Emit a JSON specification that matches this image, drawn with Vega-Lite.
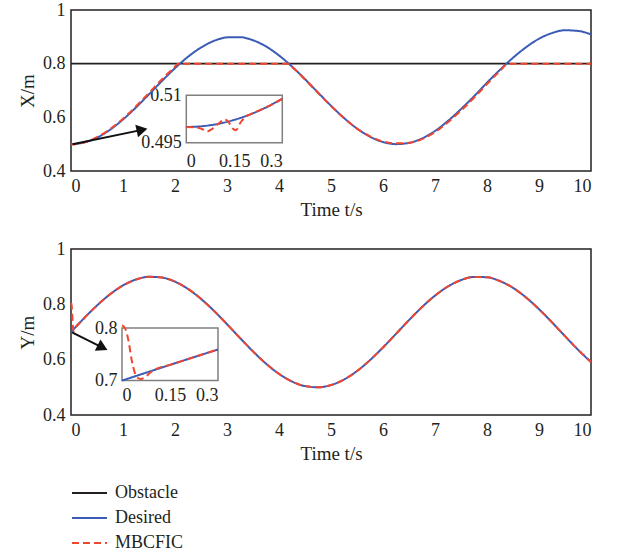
{
  "$schema": "https://vega.github.io/schema/vega-lite/v6.json",
  "background": "white",
  "padding": {"left": 17, "top": 0, "right": 5, "bottom": 5},
  "spacing": 19,
  "config": {
    "font": "Liberation Serif",
    "view": {"stroke": "#231f20", "strokeWidth": 1.5},
    "axis": {"grid": false, "ticks": false, "domain": false, "labelFontSize": 18, "titleFontSize": 19, "titleFontWeight": "normal", "labelColor": "#231f20", "titleColor": "#231f20", "labelPadding": 6, "titlePadding": 5, "labelFont": "Liberation Serif", "titleFont": "Liberation Serif"},
    "legend": {"labelFontSize": 18, "labelFont": "Liberation Serif", "labelColor": "#231f20", "padding": 0}
  },
  "datasets": {
    "xd": [
      {"t": 0, "v": 0.8, "s": "Obstacle"}, {"t": 10, "v": 0.8, "s": "Obstacle"},
      {"t": 0, "v": 0.5, "s": "Desired"}, {"t": 0.05, "v": 0.50025, "s": "Desired"}, {"t": 0.1, "v": 0.501, "s": "Desired"}, {"t": 0.15, "v": 0.50225, "s": "Desired"}, {"t": 0.2, "v": 0.50399, "s": "Desired"}, {"t": 0.25, "v": 0.50622, "s": "Desired"}, {"t": 0.3, "v": 0.50893, "s": "Desired"},
      {"t": 0.5, "v": 0.52448, "s": "Desired"}, {"t": 0.75, "v": 0.55366, "s": "Desired"}, {"t": 1, "v": 0.59194, "s": "Desired"}, {"t": 1.25, "v": 0.63694, "s": "Desired"}, {"t": 1.5, "v": 0.68585, "s": "Desired"}, {"t": 1.75, "v": 0.73565, "s": "Desired"}, {"t": 2, "v": 0.78323, "s": "Desired"}, {"t": 2.25, "v": 0.82563, "s": "Desired"}, {"t": 2.5, "v": 0.86023, "s": "Desired"}, {"t": 2.75, "v": 0.88486, "s": "Desired"}, {"t": 3, "v": 0.898, "s": "Desired"}, {"t": 3.25, "v": 0.89883, "s": "Desired"}, {"t": 3.5, "v": 0.88729, "s": "Desired"}, {"t": 3.75, "v": 0.86411, "s": "Desired"}, {"t": 4, "v": 0.83073, "s": "Desired"}, {"t": 4.25, "v": 0.78922, "s": "Desired"}, {"t": 4.5, "v": 0.74216, "s": "Desired"}, {"t": 4.75, "v": 0.69248, "s": "Desired"}, {"t": 5, "v": 0.64327, "s": "Desired"}, {"t": 5.25, "v": 0.59758, "s": "Desired"}, {"t": 5.5, "v": 0.55827, "s": "Desired"}, {"t": 5.75, "v": 0.52776, "s": "Desired"}, {"t": 6, "v": 0.50797, "s": "Desired"}, {"t": 6.25, "v": 0.50011, "s": "Desired"}, {"t": 6.5, "v": 0.50468, "s": "Desired"}, {"t": 6.75, "v": 0.5214, "s": "Desired"}, {"t": 7, "v": 0.54922, "s": "Desired"}, {"t": 7.25, "v": 0.58678, "s": "Desired"}, {"t": 7.5, "v": 0.63067, "s": "Desired"}, {"t": 7.75, "v": 0.67836, "s": "Desired"}, {"t": 8, "v": 0.7291, "s": "Desired"}, {"t": 8.25, "v": 0.7771, "s": "Desired"}, {"t": 8.5, "v": 0.822, "s": "Desired"}, {"t": 8.75, "v": 0.861, "s": "Desired"}, {"t": 9, "v": 0.893, "s": "Desired"}, {"t": 9.25, "v": 0.914, "s": "Desired"}, {"t": 9.5, "v": 0.9245, "s": "Desired"}, {"t": 9.75, "v": 0.922, "s": "Desired"}, {"t": 10, "v": 0.909, "s": "Desired"},
      {"t": 0, "v": 0.5, "s": "MBCFIC"}, {"t": 0.03, "v": 0.4999, "s": "MBCFIC"}, {"t": 0.05, "v": 0.4993, "s": "MBCFIC"}, {"t": 0.065, "v": 0.4986, "s": "MBCFIC"}, {"t": 0.08, "v": 0.4993, "s": "MBCFIC"}, {"t": 0.1, "v": 0.501, "s": "MBCFIC"}, {"t": 0.12, "v": 0.5024, "s": "MBCFIC"}, {"t": 0.13, "v": 0.5018, "s": "MBCFIC"}, {"t": 0.145, "v": 0.4995, "s": "MBCFIC"}, {"t": 0.155, "v": 0.499, "s": "MBCFIC"}, {"t": 0.17, "v": 0.5015, "s": "MBCFIC"}, {"t": 0.185, "v": 0.5032, "s": "MBCFIC"}, {"t": 0.2, "v": 0.504, "s": "MBCFIC"}, {"t": 0.25, "v": 0.50622, "s": "MBCFIC"}, {"t": 0.3, "v": 0.50893, "s": "MBCFIC"},
      {"t": 0.5, "v": 0.526, "s": "MBCFIC"}, {"t": 0.75, "v": 0.556, "s": "MBCFIC"}, {"t": 1, "v": 0.595, "s": "MBCFIC"}, {"t": 1.25, "v": 0.641, "s": "MBCFIC"}, {"t": 1.5, "v": 0.691, "s": "MBCFIC"}, {"t": 1.75, "v": 0.742, "s": "MBCFIC"}, {"t": 2, "v": 0.789, "s": "MBCFIC"}, {"t": 2.06, "v": 0.8, "s": "MBCFIC"}, {"t": 3, "v": 0.8, "s": "MBCFIC"}, {"t": 4.17, "v": 0.8, "s": "MBCFIC"}, {"t": 4.25, "v": 0.788, "s": "MBCFIC"}, {"t": 4.5, "v": 0.741, "s": "MBCFIC"}, {"t": 4.75, "v": 0.691, "s": "MBCFIC"}, {"t": 5, "v": 0.642, "s": "MBCFIC"}, {"t": 5.25, "v": 0.597, "s": "MBCFIC"}, {"t": 5.5, "v": 0.558, "s": "MBCFIC"}, {"t": 5.75, "v": 0.529, "s": "MBCFIC"}, {"t": 6, "v": 0.51, "s": "MBCFIC"}, {"t": 6.25, "v": 0.503, "s": "MBCFIC"}, {"t": 6.5, "v": 0.505, "s": "MBCFIC"}, {"t": 6.75, "v": 0.519, "s": "MBCFIC"}, {"t": 7, "v": 0.545, "s": "MBCFIC"}, {"t": 7.25, "v": 0.582, "s": "MBCFIC"}, {"t": 7.5, "v": 0.625, "s": "MBCFIC"}, {"t": 7.75, "v": 0.673, "s": "MBCFIC"}, {"t": 8, "v": 0.724, "s": "MBCFIC"}, {"t": 8.25, "v": 0.773, "s": "MBCFIC"}, {"t": 8.41, "v": 0.8, "s": "MBCFIC"}, {"t": 10, "v": 0.8, "s": "MBCFIC"}
    ],
    "yd": [
      {"t": 0, "v": 0.7, "s": "Desired"}, {"t": 0.05, "v": 0.70999, "s": "Desired"}, {"t": 0.1, "v": 0.71997, "s": "Desired"}, {"t": 0.15, "v": 0.72989, "s": "Desired"}, {"t": 0.2, "v": 0.73973, "s": "Desired"}, {"t": 0.25, "v": 0.74948, "s": "Desired"}, {"t": 0.3, "v": 0.7591, "s": "Desired"},
      {"t": 0.5, "v": 0.79589, "s": "Desired"}, {"t": 0.75, "v": 0.83633, "s": "Desired"}, {"t": 1, "v": 0.86829, "s": "Desired"}, {"t": 1.25, "v": 0.8898, "s": "Desired"}, {"t": 1.5, "v": 0.8995, "s": "Desired"}, {"t": 1.75, "v": 0.8968, "s": "Desired"}, {"t": 2, "v": 0.88186, "s": "Desired"}, {"t": 2.25, "v": 0.85561, "s": "Desired"}, {"t": 2.5, "v": 0.81969, "s": "Desired"}, {"t": 2.75, "v": 0.77633, "s": "Desired"}, {"t": 3, "v": 0.72822, "s": "Desired"}, {"t": 3.25, "v": 0.67836, "s": "Desired"}, {"t": 3.5, "v": 0.62984, "s": "Desired"}, {"t": 3.75, "v": 0.58569, "s": "Desired"}, {"t": 4, "v": 0.54864, "s": "Desired"}, {"t": 4.25, "v": 0.521, "s": "Desired"}, {"t": 4.5, "v": 0.50449, "s": "Desired"}, {"t": 4.75, "v": 0.50014, "s": "Desired"}, {"t": 5, "v": 0.50822, "s": "Desired"}, {"t": 5.25, "v": 0.52821, "s": "Desired"}, {"t": 5.5, "v": 0.55889, "s": "Desired"}, {"t": 5.75, "v": 0.59837, "s": "Desired"}, {"t": 6, "v": 0.64412, "s": "Desired"}, {"t": 6.25, "v": 0.69336, "s": "Desired"}, {"t": 6.5, "v": 0.74302, "s": "Desired"}, {"t": 6.75, "v": 0.79009, "s": "Desired"}, {"t": 7, "v": 0.8314, "s": "Desired"}, {"t": 7.25, "v": 0.86462, "s": "Desired"}, {"t": 7.5, "v": 0.8876, "s": "Desired"}, {"t": 7.75, "v": 0.89916, "s": "Desired"}, {"t": 8, "v": 0.89787, "s": "Desired"}, {"t": 8.25, "v": 0.88381, "s": "Desired"}, {"t": 8.5, "v": 0.8597, "s": "Desired"}, {"t": 8.75, "v": 0.82501, "s": "Desired"}, {"t": 9, "v": 0.78242, "s": "Desired"}, {"t": 9.25, "v": 0.73487, "s": "Desired"}, {"t": 9.5, "v": 0.68497, "s": "Desired"}, {"t": 9.75, "v": 0.6361, "s": "Desired"}, {"t": 10, "v": 0.5912, "s": "Desired"},
      {"t": 0, "v": 0.805, "s": "MBCFIC"}, {"t": 0.008, "v": 0.801, "s": "MBCFIC"}, {"t": 0.015, "v": 0.79, "s": "MBCFIC"}, {"t": 0.022, "v": 0.77, "s": "MBCFIC"}, {"t": 0.03, "v": 0.74, "s": "MBCFIC"}, {"t": 0.04, "v": 0.715, "s": "MBCFIC"}, {"t": 0.05, "v": 0.705, "s": "MBCFIC"}, {"t": 0.06, "v": 0.703, "s": "MBCFIC"}, {"t": 0.075, "v": 0.708, "s": "MBCFIC"}, {"t": 0.09, "v": 0.716, "s": "MBCFIC"}, {"t": 0.1, "v": 0.72, "s": "MBCFIC"}, {"t": 0.15, "v": 0.72989, "s": "MBCFIC"}, {"t": 0.2, "v": 0.73973, "s": "MBCFIC"}, {"t": 0.25, "v": 0.74948, "s": "MBCFIC"}, {"t": 0.3, "v": 0.7591, "s": "MBCFIC"},
      {"t": 0.5, "v": 0.79589, "s": "MBCFIC"}, {"t": 0.75, "v": 0.83633, "s": "MBCFIC"}, {"t": 1, "v": 0.86829, "s": "MBCFIC"}, {"t": 1.25, "v": 0.8898, "s": "MBCFIC"}, {"t": 1.5, "v": 0.8995, "s": "MBCFIC"}, {"t": 1.75, "v": 0.8968, "s": "MBCFIC"}, {"t": 2, "v": 0.88186, "s": "MBCFIC"}, {"t": 2.25, "v": 0.85561, "s": "MBCFIC"}, {"t": 2.5, "v": 0.81969, "s": "MBCFIC"}, {"t": 2.75, "v": 0.77633, "s": "MBCFIC"}, {"t": 3, "v": 0.72822, "s": "MBCFIC"}, {"t": 3.25, "v": 0.67836, "s": "MBCFIC"}, {"t": 3.5, "v": 0.62984, "s": "MBCFIC"}, {"t": 3.75, "v": 0.58569, "s": "MBCFIC"}, {"t": 4, "v": 0.54864, "s": "MBCFIC"}, {"t": 4.25, "v": 0.521, "s": "MBCFIC"}, {"t": 4.5, "v": 0.50449, "s": "MBCFIC"}, {"t": 4.75, "v": 0.50014, "s": "MBCFIC"}, {"t": 5, "v": 0.50822, "s": "MBCFIC"}, {"t": 5.25, "v": 0.52821, "s": "MBCFIC"}, {"t": 5.5, "v": 0.55889, "s": "MBCFIC"}, {"t": 5.75, "v": 0.59837, "s": "MBCFIC"}, {"t": 6, "v": 0.64412, "s": "MBCFIC"}, {"t": 6.25, "v": 0.69336, "s": "MBCFIC"}, {"t": 6.5, "v": 0.74302, "s": "MBCFIC"}, {"t": 6.75, "v": 0.79009, "s": "MBCFIC"}, {"t": 7, "v": 0.8314, "s": "MBCFIC"}, {"t": 7.25, "v": 0.86462, "s": "MBCFIC"}, {"t": 7.5, "v": 0.8876, "s": "MBCFIC"}, {"t": 7.75, "v": 0.89916, "s": "MBCFIC"}, {"t": 8, "v": 0.89787, "s": "MBCFIC"}, {"t": 8.25, "v": 0.88381, "s": "MBCFIC"}, {"t": 8.5, "v": 0.8597, "s": "MBCFIC"}, {"t": 8.75, "v": 0.82501, "s": "MBCFIC"}, {"t": 9, "v": 0.78242, "s": "MBCFIC"}, {"t": 9.25, "v": 0.73487, "s": "MBCFIC"}, {"t": 9.5, "v": 0.68497, "s": "MBCFIC"}, {"t": 9.75, "v": 0.6361, "s": "MBCFIC"}, {"t": 10, "v": 0.5912, "s": "MBCFIC"}
    ],
    "ax": [{"t": 0.03, "v": 0.5, "t2": 1.366, "v2": 0.5533, "a": -12.5}],
    "ay": [{"t": 0.02, "v": 0.699, "t2": 0.607, "v2": 0.6436, "a": 26.6}],
    "fx": [{"t": 0, "t2": 0.3, "v": 0.495, "v2": 0.51}],
    "fy": [{"t": 0, "t2": 0.3, "v": 0.7, "v2": 0.8}]
  },
  "resolve": {"scale": {"color": "independent", "strokeDash": "independent"}},
  "vconcat": [
    {
      "width": 520, "height": 161,
      "resolve": {"scale": {"x": "independent", "y": "independent"}},
      "layer": [
        {
          "layer": [
            {"data": {"name": "xd"}, "transform": [{"filter": "datum.s == 'Obstacle'"}], "mark": {"type": "line", "strokeWidth": 1.8},
             "encoding": {
               "x": {"field": "t", "type": "quantitative", "title": "Time t/s", "scale": {"domain": [0, 10]}, "axis": {"values": [0,1,2,3,4,5,6,7,8,9,10]}},
               "y": {"field": "v", "type": "quantitative", "title": "X/m", "scale": {"domain": [0.4, 1], "zero": false}, "axis": {"values": [0.4,0.6,0.8,1], "labelExpr": "datum.value"}},
               "color": {"field": "s", "type": "nominal", "scale": {"domain": ["Obstacle","Desired","MBCFIC"], "range": ["#231f20","#3b5bb5","#f0462d"]}, "legend": null},
               "strokeDash": {"field": "s", "type": "nominal", "scale": {"domain": ["Obstacle","Desired","MBCFIC"], "range": [[1,0],[1,0],[7,4]]}, "legend": null}}},
            {"data": {"name": "xd"}, "transform": [{"filter": "datum.s == 'Desired'"}], "mark": {"type": "line", "strokeWidth": 2, "interpolate": "monotone"},
             "encoding": {
               "x": {"field": "t", "type": "quantitative", "title": "Time t/s"},
               "y": {"field": "v", "type": "quantitative", "title": "X/m"},
               "color": {"field": "s", "type": "nominal", "legend": null},
               "strokeDash": {"field": "s", "type": "nominal", "legend": null}}},
            {"data": {"name": "xd"}, "transform": [{"filter": "datum.s == 'MBCFIC'"}], "mark": {"type": "line", "strokeWidth": 2, "interpolate": "monotone"},
             "encoding": {
               "x": {"field": "t", "type": "quantitative", "title": "Time t/s"},
               "y": {"field": "v", "type": "quantitative", "title": "X/m"},
               "color": {"field": "s", "type": "nominal", "legend": null},
               "strokeDash": {"field": "s", "type": "nominal", "legend": null}}},
            {"data": {"name": "ax"}, "mark": {"type": "rule", "strokeWidth": 2, "color": "#111"},
             "encoding": {
               "x": {"field": "t", "type": "quantitative", "title": "Time t/s"}, "x2": {"field": "t2"},
               "y": {"field": "v", "type": "quantitative", "title": "X/m"}, "y2": {"field": "v2"}}},
            {"data": {"name": "ax"}, "mark": {"type": "point", "shape": "triangle-right", "filled": true, "color": "#111", "opacity": 1, "size": 160},
             "encoding": {
               "x": {"field": "t2", "type": "quantitative", "title": "Time t/s"},
               "y": {"field": "v2", "type": "quantitative", "title": "X/m"},
               "angle": {"field": "a", "type": "quantitative", "scale": null}}}
          ]
        },
        {
          "layer": [
            {"data": {"name": "fx"}, "mark": {"type": "rect", "fill": "white", "stroke": "#808080", "strokeWidth": 1.5},
             "encoding": {
               "x": {"field": "t", "type": "quantitative", "title": null, "scale": {"domain": [0, 0.3], "range": [115.3, 211.3]}, "axis": {"orient": "bottom", "offset": -25, "values": [0, 0.15, 0.3], "labelExpr": "datum.value"}},
               "x2": {"field": "t2"},
               "y": {"field": "v", "type": "quantitative", "title": null, "scale": {"domain": [0.495, 0.51], "zero": false, "range": [136, 85.3]}, "axis": {"orient": "left", "offset": -115.3, "values": [0.495, 0.51], "labelExpr": "datum.value", "labelPadding": 5}},
               "y2": {"field": "v2"}}},
            {"data": {"name": "xd"}, "transform": [{"filter": "datum.s == 'Desired' && datum.t <= 0.3"}], "mark": {"type": "line", "strokeWidth": 2, "interpolate": "monotone"},
             "encoding": {
               "x": {"field": "t", "type": "quantitative", "title": null},
               "y": {"field": "v", "type": "quantitative", "title": null},
               "color": {"field": "s", "type": "nominal", "legend": null},
               "strokeDash": {"field": "s", "type": "nominal", "legend": null}}},
            {"data": {"name": "xd"}, "transform": [{"filter": "datum.s == 'MBCFIC' && datum.t <= 0.3"}], "mark": {"type": "line", "strokeWidth": 2, "interpolate": "monotone"},
             "encoding": {
               "x": {"field": "t", "type": "quantitative", "title": null},
               "y": {"field": "v", "type": "quantitative", "title": null},
               "color": {"field": "s", "type": "nominal", "legend": null},
               "strokeDash": {"field": "s", "type": "nominal", "legend": null}}}
          ]
        }
      ]
    },
    {
      "width": 520, "height": 166,
      "resolve": {"scale": {"x": "independent", "y": "independent"}},
      "layer": [
        {
          "layer": [
            {"data": {"name": "yd"}, "transform": [{"filter": "datum.s == 'Desired'"}], "mark": {"type": "line", "strokeWidth": 2, "interpolate": "monotone"},
             "encoding": {
               "x": {"field": "t", "type": "quantitative", "title": "Time t/s", "scale": {"domain": [0, 10]}, "axis": {"values": [0,1,2,3,4,5,6,7,8,9,10]}},
               "y": {"field": "v", "type": "quantitative", "title": "Y/m", "scale": {"domain": [0.4, 1], "zero": false}, "axis": {"values": [0.4,0.6,0.8,1], "labelExpr": "datum.value"}},
               "color": {"field": "s", "type": "nominal", "scale": {"domain": ["Obstacle","Desired","MBCFIC"], "range": ["#231f20","#3b5bb5","#f0462d"]},
                         "legend": {"title": null, "orient": "none", "legendX": 0, "legendY": 231.5, "symbolType": "stroke", "symbolSize": 1225, "symbolStrokeWidth": 2, "clipHeight": 25, "rowPadding": 0, "labelOffset": 7, "labelFontSize": 18, "padding": 0}},
               "strokeDash": {"field": "s", "type": "nominal", "scale": {"domain": ["Obstacle","Desired","MBCFIC"], "range": [[1,0],[1,0],[7,4]]},
                         "legend": {"title": null, "orient": "none", "legendX": 0, "legendY": 231.5, "symbolType": "stroke", "symbolSize": 1225, "symbolStrokeWidth": 2, "clipHeight": 25, "rowPadding": 0, "labelOffset": 7, "labelFontSize": 18, "padding": 0}}}},
            {"data": {"name": "yd"}, "transform": [{"filter": "datum.s == 'MBCFIC'"}], "mark": {"type": "line", "strokeWidth": 2, "interpolate": "monotone"},
             "encoding": {
               "x": {"field": "t", "type": "quantitative", "title": "Time t/s"},
               "y": {"field": "v", "type": "quantitative", "title": "Y/m"},
               "color": {"field": "s", "type": "nominal"},
               "strokeDash": {"field": "s", "type": "nominal"}}},
            {"data": {"name": "ay"}, "mark": {"type": "rule", "strokeWidth": 2, "color": "#111"},
             "encoding": {
               "x": {"field": "t", "type": "quantitative", "title": "Time t/s"}, "x2": {"field": "t2"},
               "y": {"field": "v", "type": "quantitative", "title": "Y/m"}, "y2": {"field": "v2"}}},
            {"data": {"name": "ay"}, "mark": {"type": "point", "shape": "triangle-right", "filled": true, "color": "#111", "opacity": 1, "size": 160},
             "encoding": {
               "x": {"field": "t2", "type": "quantitative", "title": "Time t/s"},
               "y": {"field": "v2", "type": "quantitative", "title": "Y/m"},
               "angle": {"field": "a", "type": "quantitative", "scale": null}}}
          ]
        },
        {
          "layer": [
            {"data": {"name": "fy"}, "mark": {"type": "rect", "fill": "white", "stroke": "#808080", "strokeWidth": 1.5},
             "encoding": {
               "x": {"field": "t", "type": "quantitative", "title": null, "scale": {"domain": [0, 0.3], "range": [51, 147]}, "axis": {"orient": "bottom", "offset": -34.4, "values": [0, 0.15, 0.3], "labelExpr": "datum.value"}},
               "x2": {"field": "t2"},
               "y": {"field": "v", "type": "quantitative", "title": null, "scale": {"domain": [0.7, 0.8], "zero": false, "range": [131.6, 79]}, "axis": {"orient": "left", "offset": -51, "values": [0.7, 0.8], "labelExpr": "datum.value", "labelPadding": 5}},
               "y2": {"field": "v2"}}},
            {"data": {"name": "yd"}, "transform": [{"filter": "datum.s == 'Desired' && datum.t <= 0.3"}], "mark": {"type": "line", "strokeWidth": 2, "interpolate": "monotone"},
             "encoding": {
               "x": {"field": "t", "type": "quantitative", "title": null},
               "y": {"field": "v", "type": "quantitative", "title": null},
               "color": {"field": "s", "type": "nominal"},
               "strokeDash": {"field": "s", "type": "nominal"}}},
            {"data": {"name": "yd"}, "transform": [{"filter": "datum.s == 'MBCFIC' && datum.t <= 0.3"}], "mark": {"type": "line", "strokeWidth": 2, "interpolate": "monotone"},
             "encoding": {
               "x": {"field": "t", "type": "quantitative", "title": null},
               "y": {"field": "v", "type": "quantitative", "title": null},
               "color": {"field": "s", "type": "nominal"},
               "strokeDash": {"field": "s", "type": "nominal"}}}
          ]
        }
      ]
    }
  ]
}
